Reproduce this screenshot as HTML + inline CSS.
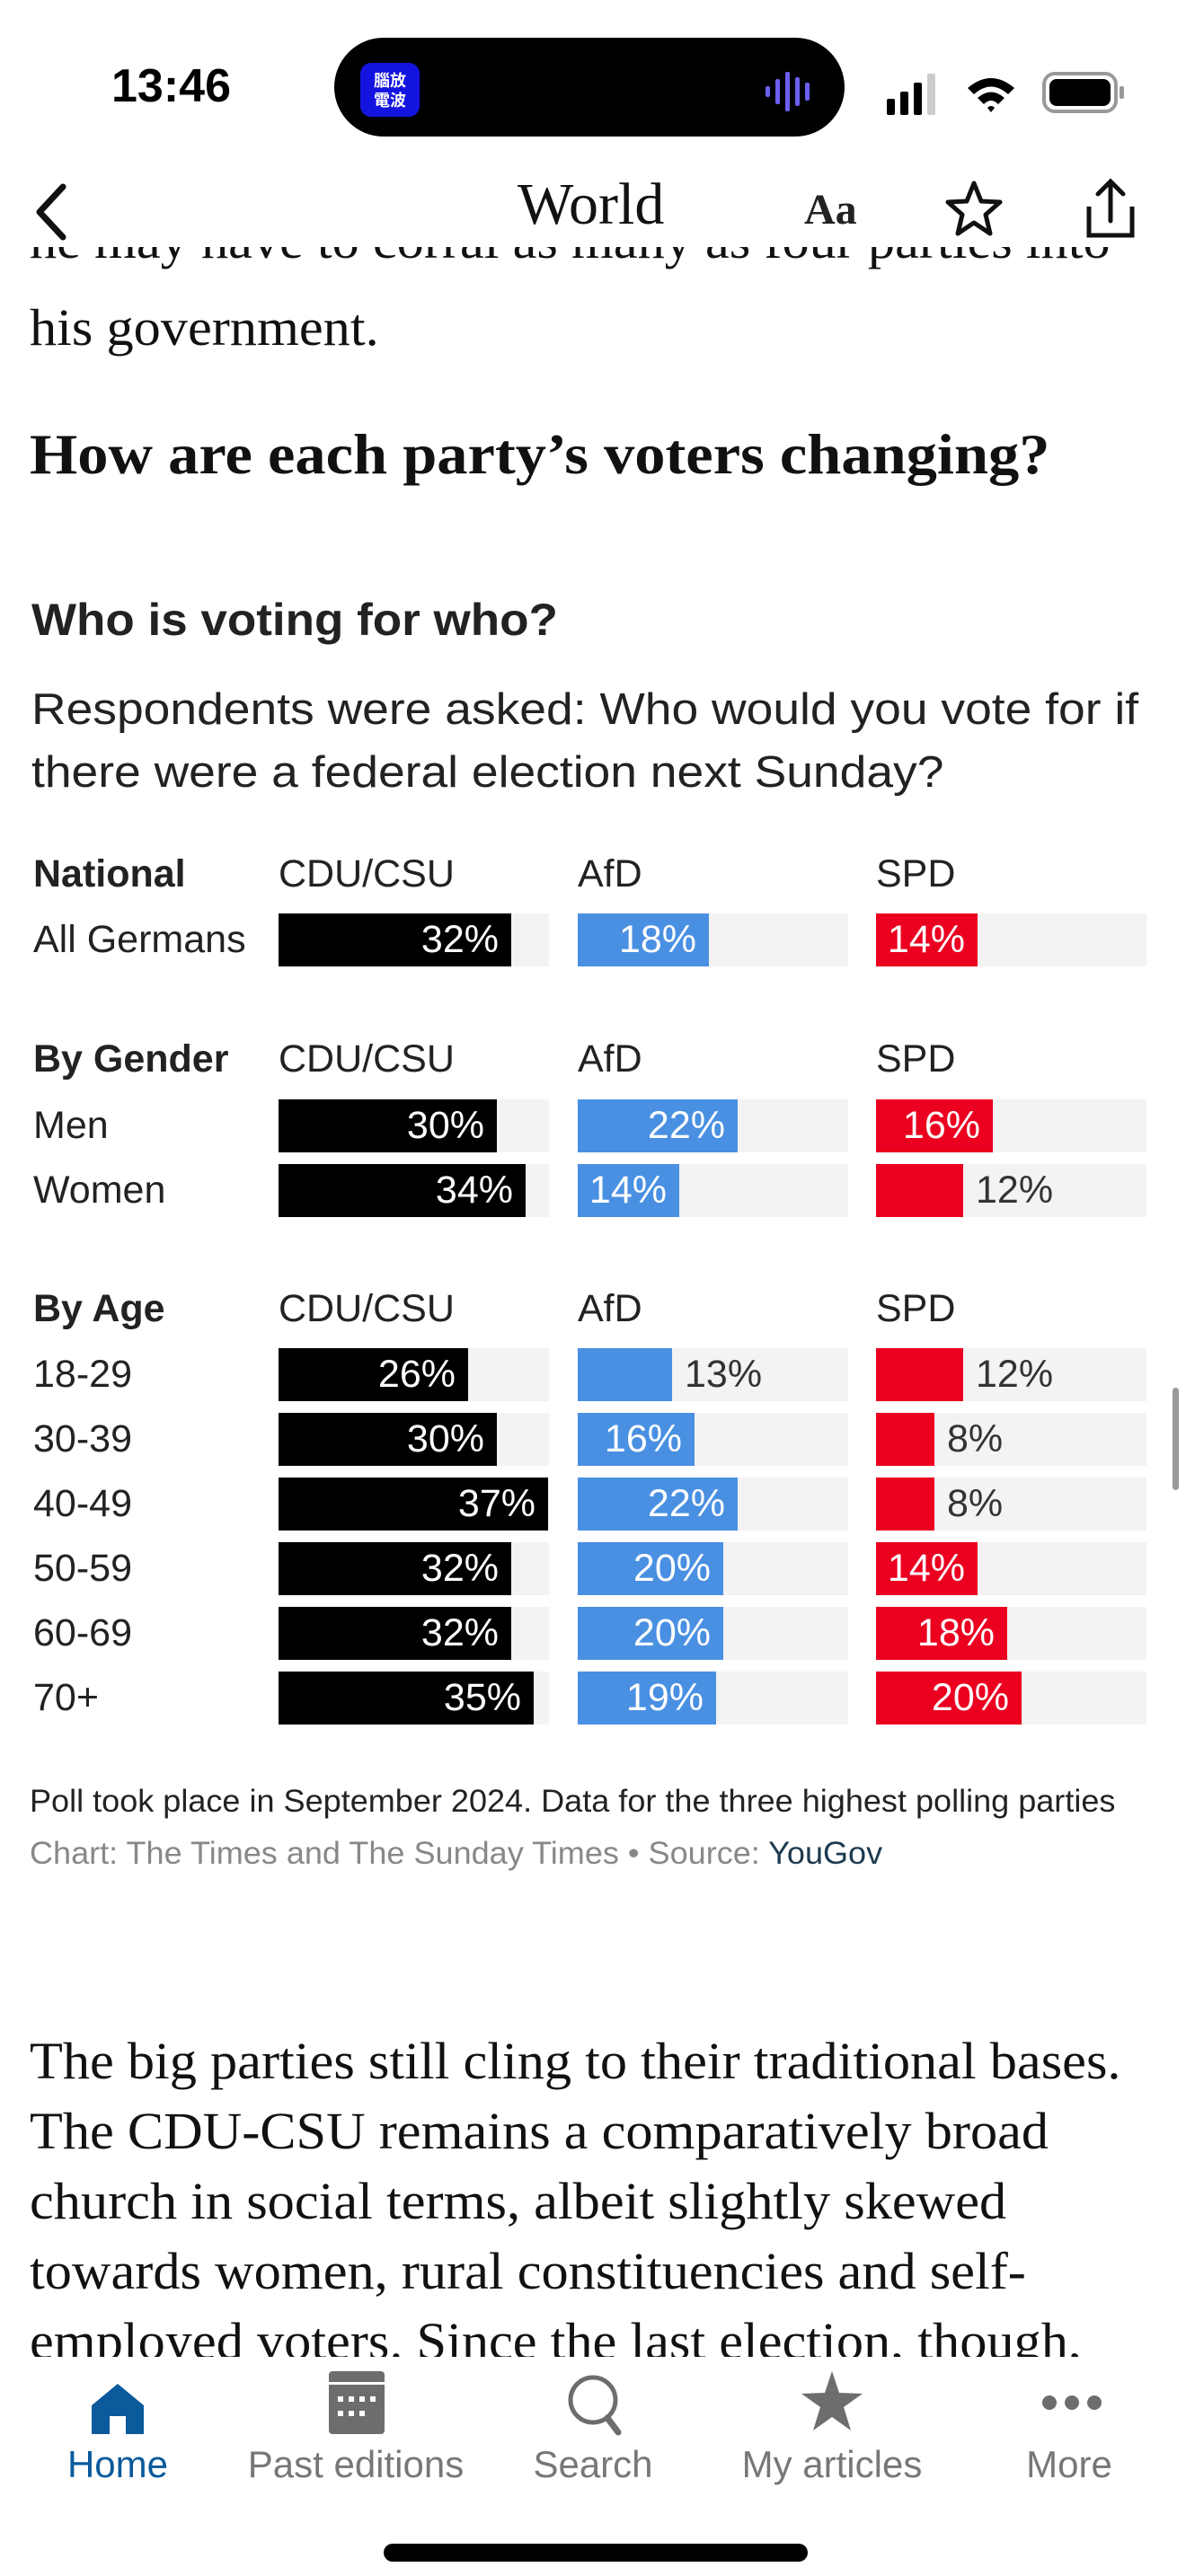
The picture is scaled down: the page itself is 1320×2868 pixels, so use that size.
<!DOCTYPE html>
<html><head><meta charset="utf-8"><style>
*{margin:0;padding:0;box-sizing:border-box}
body{width:1320px;height:2868px;background:#fff;position:relative;overflow:hidden;font-family:"Liberation Sans",sans-serif;color:#222}
.a{position:absolute;white-space:nowrap}
.serif{font-family:"Liberation Serif",serif;color:#111}
.sq{transform-origin:0 50%}
.bar{position:absolute;height:59px}
.trk{background:#f3f3f3}
.lbl{position:absolute;font-size:43px;line-height:59px;color:#fff}
.out{color:#333}
.hd{font-size:43px;line-height:50px;color:#222}
.tab{position:absolute;top:2720px;font-size:42px;color:#777;text-align:center;width:260px}
</style></head><body>
<div class="a" style="left:124px;top:66px;font-size:52px;font-weight:bold;color:#000;line-height:60px">13:46</div>
<div class="a" style="left:372px;top:42px;width:568px;height:110px;background:#000;border-radius:55px"></div>
<div class="a" style="left:401px;top:70px;width:66px;height:60px;background:#1414e0;border-radius:12px;color:#fff;font-size:18px;line-height:22px;text-align:center;padding-top:8px;font-family:'Noto Sans CJK TC',sans-serif;font-weight:bold">腦放<br>電波</div>
<div class="a" style="left:852px;top:80px;">
<svg width="66" height="44"><g fill="#6b5ff0"><rect x="0" y="16" width="5" height="12" rx="2"/><rect x="11" y="8" width="5" height="28" rx="2"/><rect x="22" y="0" width="5" height="44" rx="2"/><rect x="33" y="6" width="5" height="32" rx="2"/><rect x="44" y="12" width="5" height="20" rx="2"/></g></svg></div>
<svg class="a" style="left:985px;top:76px" width="270" height="56">
<g fill="#000"><rect x="2" y="34" width="9" height="18" rx="2"/><rect x="17" y="26" width="9" height="26" rx="2"/><rect x="32" y="16" width="9" height="36" rx="2"/></g><rect x="47" y="6" width="9" height="46" rx="2" fill="#ccc"/>
<path d="M92 22 Q118 0 144 22 L137 29 Q118 12 99 29Z M103 33 Q118 20 133 33 L126 40 Q118 32 110 40Z M114 44 L118 49 L122 44 Q118 40 114 44Z" fill="#000"/>
<rect x="177" y="6" width="80" height="42" rx="12" fill="none" stroke="#999" stroke-width="4"/><rect x="183" y="12" width="68" height="30" rx="8" fill="#000"/><rect x="261" y="20" width="5" height="14" rx="2" fill="#999"/></svg>
<svg class="a" style="left:36px;top:204px" width="40" height="64"><path d="M34 4 L8 32 L34 60" fill="none" stroke="#111" stroke-width="7" stroke-linecap="round" stroke-linejoin="round"/></svg>
<div class="a serif" style="left:576px;top:188px;font-size:66px;line-height:80px;color:#111">World</div>
<div class="a serif" style="left:895px;top:204px;font-size:48px;line-height:60px;font-weight:bold;color:#222">Aa</div>
<svg class="a" style="left:1052px;top:200px" width="64" height="64"><path d="M32 4 L40 24 L61 25 L45 39 L50 60 L32 48 L14 60 L19 39 L3 25 L24 24Z" fill="none" stroke="#111" stroke-width="5" stroke-linejoin="round"/></svg>
<svg class="a" style="left:1208px;top:196px" width="56" height="72"><path d="M4 34 V66 H52 V34" fill="none" stroke="#111" stroke-width="5"/><path d="M28 50 V6 M14 20 L28 6 L42 20" fill="none" stroke="#111" stroke-width="5" stroke-linecap="round"/></svg>
<div class="a" style="left:0;top:275px;width:1320px;height:40px;overflow:hidden">
<div class="a serif sq" style="left:33px;top:-42px;font-size:58px;line-height:70px;transform:scaleX(1.04)">he may have to corral as many as four parties into</div></div>
<div class="a serif sq" style="left:33px;top:330px;font-size:58px;line-height:70px;transform:scaleX(1.04)">his government.</div>
<div class="a serif sq" style="left:33px;top:466px;font-size:64px;line-height:80px;font-weight:bold;transform:scaleX(1.07)">How are each party’s voters changing?</div>
<div class="a sq" style="left:35px;top:660px;font-size:50px;line-height:60px;font-weight:bold;color:#222;transform:scaleX(1.06)">Who is voting for who?</div>
<div class="a sq" style="left:35px;top:760px;font-size:49px;line-height:60px;color:#222;transform:scaleX(1.09)">Respondents were asked: Who would you vote for if</div>
<div class="a sq" style="left:35px;top:830px;font-size:49px;line-height:60px;color:#222;transform:scaleX(1.09)">there were a federal election next Sunday?</div>

<div id="chart"></div>
<script>
var C=document.getElementById('chart');var h='';
var cols=[310,643,975],colr=['#000','#4a90e2','#eb0020'],ppx=8.1;
function head(y,t){h+='<div class="a hd" style="left:37px;top:'+(y-25)+'px;font-weight:bold">'+t+'</div>';
['CDU/CSU','AfD','SPD'].forEach(function(p,i){h+='<div class="a hd" style="left:'+cols[i]+'px;top:'+(y-25)+'px">'+p+'</div>';});}
function row(y,t,v){h+='<div class="a" style="left:37px;top:'+y+'px;font-size:43px;line-height:59px;color:#222">'+t+'</div>';
v.forEach(function(val,i){var x=cols[i],w=Math.round(val*ppx);
h+='<div class="bar trk" style="left:'+x+'px;top:'+y+'px;width:301px"></div>';
h+='<div class="bar" style="left:'+x+'px;top:'+y+'px;width:'+w+'px;background:'+colr[i]+'"></div>';
if(val>=14)h+='<div class="lbl" style="left:'+x+'px;top:'+y+'px;width:'+(w-14)+'px;text-align:right">'+val+'%</div>';
else h+='<div class="lbl out" style="left:'+(x+w+14)+'px;top:'+y+'px">'+val+'%</div>';});}
head(973,'National');row(1017,'All Germans',[32,18,14]);
head(1179,'By Gender');row(1224,'Men',[30,22,16]);row(1296,'Women',[34,14,12]);
head(1457,'By Age');
[['18-29',[26,13,12]],['30-39',[30,16,8]],['40-49',[37,22,8]],['50-59',[32,20,14]],['60-69',[32,20,18]],['70+',[35,19,20]]].forEach(function(r,k){row(1501+k*72,r[0],r[1]);});
C.innerHTML=h;
</script>
<div class="a sq" style="left:33px;top:1986px;font-size:35px;line-height:40px;color:#222;transform:scaleX(1.03)">Poll took place in September 2024. Data for the three highest polling parties</div>
<div class="a sq" style="left:33px;top:2044px;font-size:35px;line-height:40px;color:#888;transform:scaleX(1.03)">Chart: The Times and The Sunday Times • Source: <span style="color:#1d3a4f">YouGov</span></div>
<div class="a" style="left:0;top:2250px;width:1320px;height:374px;overflow:hidden">
<div class="a serif sq" style="left:33px;top:6px;font-size:58px;line-height:78px;transform:scaleX(1.04);transform-origin:0 0">The big parties still cling to their traditional bases.<br>The CDU-CSU remains a comparatively broad<br>church in social terms, albeit slightly skewed<br>towards women, rural constituencies and self-<br>employed voters. Since the last election, though,</div></div>
<div class="a" style="left:1305px;top:1545px;width:7px;height:114px;border-radius:4px;background:#999"></div>
<svg class="a" style="left:100px;top:2652px" width="62" height="60"><path d="M31 2 L60 26 V58 H40 V38 H22 V58 H2 V26Z" fill="#0a5a9c" stroke-linejoin="round"/></svg>
<svg class="a" style="left:366px;top:2640px" width="62" height="72"><rect x="0" y="0" width="62" height="70" rx="4" fill="#6d6d6d"/><rect x="0" y="12" width="62" height="3" fill="#fff"/><g fill="#fff"><rect x="10" y="28" width="6" height="6"/><rect x="22" y="28" width="6" height="6"/><rect x="34" y="28" width="6" height="6"/><rect x="46" y="28" width="6" height="6"/><rect x="10" y="44" width="6" height="6"/><rect x="22" y="44" width="6" height="6"/><rect x="34" y="44" width="6" height="6"/></g></svg>
<svg class="a" style="left:630px;top:2642px" width="64" height="72"><circle cx="30" cy="30" r="25" fill="none" stroke="#6d6d6d" stroke-width="5"/><path d="M46 50 L58 66" stroke="#6d6d6d" stroke-width="7" stroke-linecap="round"/></svg>
<svg class="a" style="left:892px;top:2640px" width="68" height="68"><path d="M34 0 L42 24 L68 25 L47 40 L55 66 L34 51 L13 66 L21 40 L0 25 L26 24Z" fill="#6d6d6d"/></svg>
<svg class="a" style="left:1158px;top:2662px" width="70" height="26"><g fill="#6d6d6d"><circle cx="10" cy="13" r="8"/><circle cx="35" cy="13" r="8"/><circle cx="60" cy="13" r="8"/></g></svg>
<div class="tab" style="left:1px;color:#0a5a9c">Home</div>
<div class="tab" style="left:266px">Past editions</div>
<div class="tab" style="left:530px">Search</div>
<div class="tab" style="left:796px">My articles</div>
<div class="tab" style="left:1060px">More</div>
<div class="a" style="left:427px;top:2832px;width:472px;height:20px;border-radius:10px;background:#000"></div>
</body></html>
